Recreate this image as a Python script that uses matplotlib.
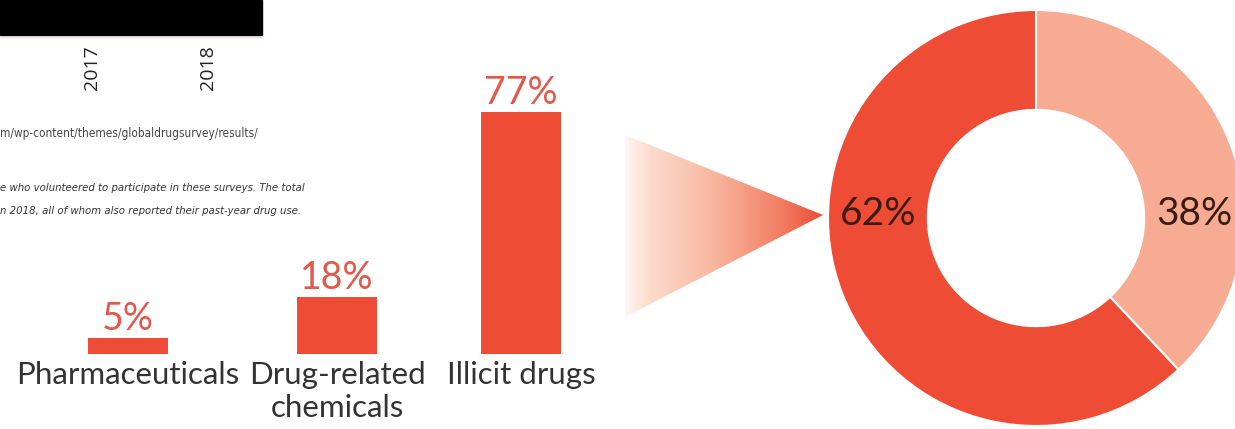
import matplotlib
matplotlib.use("Agg")
import matplotlib.pyplot as plt
import numpy as np
from matplotlib.colors import LinearSegmentedColormap
from matplotlib.patches import Polygon, Rectangle

# data
categories = ["Pharmaceuticals", "Drug-related\nchemicals", "Illicit drugs"]
shares = [5, 18, 77]
donut_values = [38, 62]
donut_labels = ["38%", "62%"]
years = ["2017", "2018"]
source_text = "m/wp-content/themes/globaldrugsurvey/results/"
note_lines = ["e who volunteered to participate in these surveys. The total",
              "n 2018, all of whom also reported their past-year drug use."]

RED = "#ef4c35"
SALMON = "#f6ab92"
LABEL_RED = "#e2584a"
W, H = 1235, 429

plt.rcParams['font.family'] = ['Lato', 'DejaVu Sans']

fig = plt.figure(figsize=(W / 100, H / 100), dpi=100)
fig.patch.set_facecolor("white")

# background axes in pixel units, for the surrounding page bits
bg = fig.add_axes([0, 0, 1, 1])
bg.set_xlim(0, W)
bg.set_ylim(H, 0)
bg.axis("off")

bg.add_patch(Rectangle((0, 0), 262, 35, color="black"))
bg.plot([0, 262], [36.5, 36.5], color="#f6d8dc", lw=1)
for yr, x in zip(years, [92, 208]):
    bg.text(x, 68, yr, rotation=90, ha="center", va="center", fontsize=14,
            color="#222222", family=['Open Sans', 'DejaVu Sans'])
bg.text(0, 133, source_text, ha="left", va="center", fontsize=8.5,
        color="#444444", family='DejaVu Sans', fontstretch="condensed")
for i, line in enumerate(note_lines):
    bg.text(0, 188 + 23 * i, line, ha="left", va="center", fontsize=8.1,
            style="italic", color="#333333", family='DejaVu Sans',
            fontstretch="condensed")

# gradient arrow pointing at the donut
tri = Polygon([[625, 135], [625, 317], [823, 215]], closed=True,
              transform=bg.transData, facecolor="none", edgecolor="none")
bg.add_patch(tri)
grad_cmap = LinearSegmentedColormap.from_list(
    "grad", [(0, "#fff6f2"), (0.12, "#fcdccd"), (0.45, "#f8b69f"),
             (0.8, "#f27b61"), (1, "#ee4a35")])
img = bg.imshow(np.linspace(0, 1, 256).reshape(1, -1), cmap=grad_cmap,
                extent=(625, 823, 317, 135), aspect="auto", zorder=2)
img.set_clip_path(tri)
bg.set_xlim(0, W)
bg.set_ylim(H, 0)

# bar chart
px_unit = 209.0
bar_x = [0, 1, 1.88]
x0, x1 = -0.6, 2.5
ax = fig.add_axes([(128 + x0 * px_unit) / W, (H - 354) / H,
                   (x1 - x0) * px_unit / W, 314 / H])
ax.bar(bar_x, shares, width=80 / px_unit, color=RED)
ax.set_xlim(x0, x1)
ax.set_ylim(0, 100)
ax.axis("off")
for x, v in zip(bar_x, shares):
    ax.annotate(f"{v}%", (x, v), xytext=(0, 1), textcoords="offset points",
                ha="center", va="bottom", fontsize=27, color=LABEL_RED)
for x, lab in zip(bar_x, categories):
    ax.annotate(lab, (x, 0), xytext=(0, -5), textcoords="offset points",
                ha="center", va="top", fontsize=22.5, color="#333333",
                linespacing=1.2)

# donut
R = 208
cx, cy = 1036, 218
dax = fig.add_axes([(cx - R) / W, (H - cy - R) / H, 2 * R / W, 2 * R / H])
dax.pie(donut_values, colors=[SALMON, RED], startangle=90, counterclock=False,
        radius=1, wedgeprops=dict(width=0.48, edgecolor="white", linewidth=1.5))
dax.set_xlim(-1, 1)
dax.set_ylim(-1, 1)
dax.set_aspect("auto")
mid = 1 - 0.48 / 2
for lab, side in zip(donut_labels, [1, -1]):
    dax.text(side * mid, 0.02, lab, ha="center", va="center", fontsize=28,
             color="#3a1c12")

fig.savefig("out.png", dpi=100)
